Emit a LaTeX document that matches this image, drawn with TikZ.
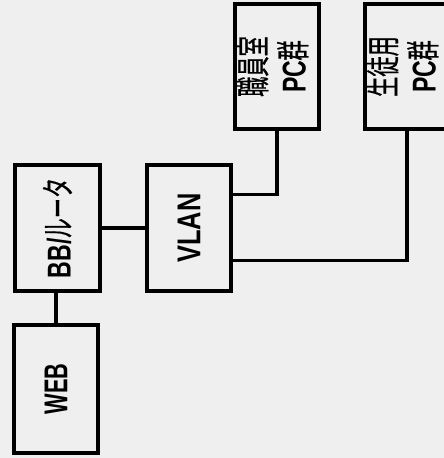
\documentclass[tikz,border=0pt]{standalone}
\usepackage{fontspec}
\usepackage{graphicx}
\setmainfont{Liberation Sans}
\newfontfamily\jp[FakeBold=0.7]{Noto Sans CJK JP}
\usetikzlibrary{calc}
\definecolor{paper}{RGB}{239,239,239}
\newcommand{\rtxt}[2]{\rotatebox{90}{\scalebox{#1}[1]{\fontsize{33}{38}\selectfont\bfseries #2}}}
\newcommand{\J}[1]{\scalebox{0.85}[1]{\jp\mdseries\fontsize{34}{38}\selectfont #1}}
\begin{document}
\begin{tikzpicture}[x=1pt,y=-1pt,
  box/.style={draw=black,line width=3.5pt,minimum width=84pt,minimum height=125pt,inner sep=0pt,align=center},
  wire/.style={draw=black,line width=3.5pt}]
\fill[paper] (0,0) rectangle (444,458);
\useasboundingbox (0,0) rectangle (444,458);
\node[box,minimum height=128pt] (web) at (56,389) {\rtxt{0.66}{WEB}};
\node[box,minimum width=85pt,minimum height=126pt] (bb) at (57.5,228) {\rtxt{0.7}{BB/\J{ルータ}}};
\node[box,minimum height=126pt] (vlan) at (189,228) {\rtxt{0.77}{VLAN}};
\node[box] (shoku) at (277,66.5) {\rtxt{0.7}{\begin{tabular}{@{}c@{}}\J{職員室}\\PC\J{群}\end{tabular}}};
\node[box] (seito) at (407,66.5) {\rtxt{0.7}{\begin{tabular}{@{}c@{}}\J{生徒用}\\PC\J{群}\end{tabular}}};
\draw[wire] (web.north) -- (web.north |- bb.south);
\draw[wire] (bb.east) -- (vlan.west);
\draw[wire] ($(vlan.north east)!0.24!(vlan.south east)$) -| (shoku.south);
\draw[wire] ($(vlan.north east)!0.75!(vlan.south east)$) -| (seito.south);
\end{tikzpicture}
\end{document}
